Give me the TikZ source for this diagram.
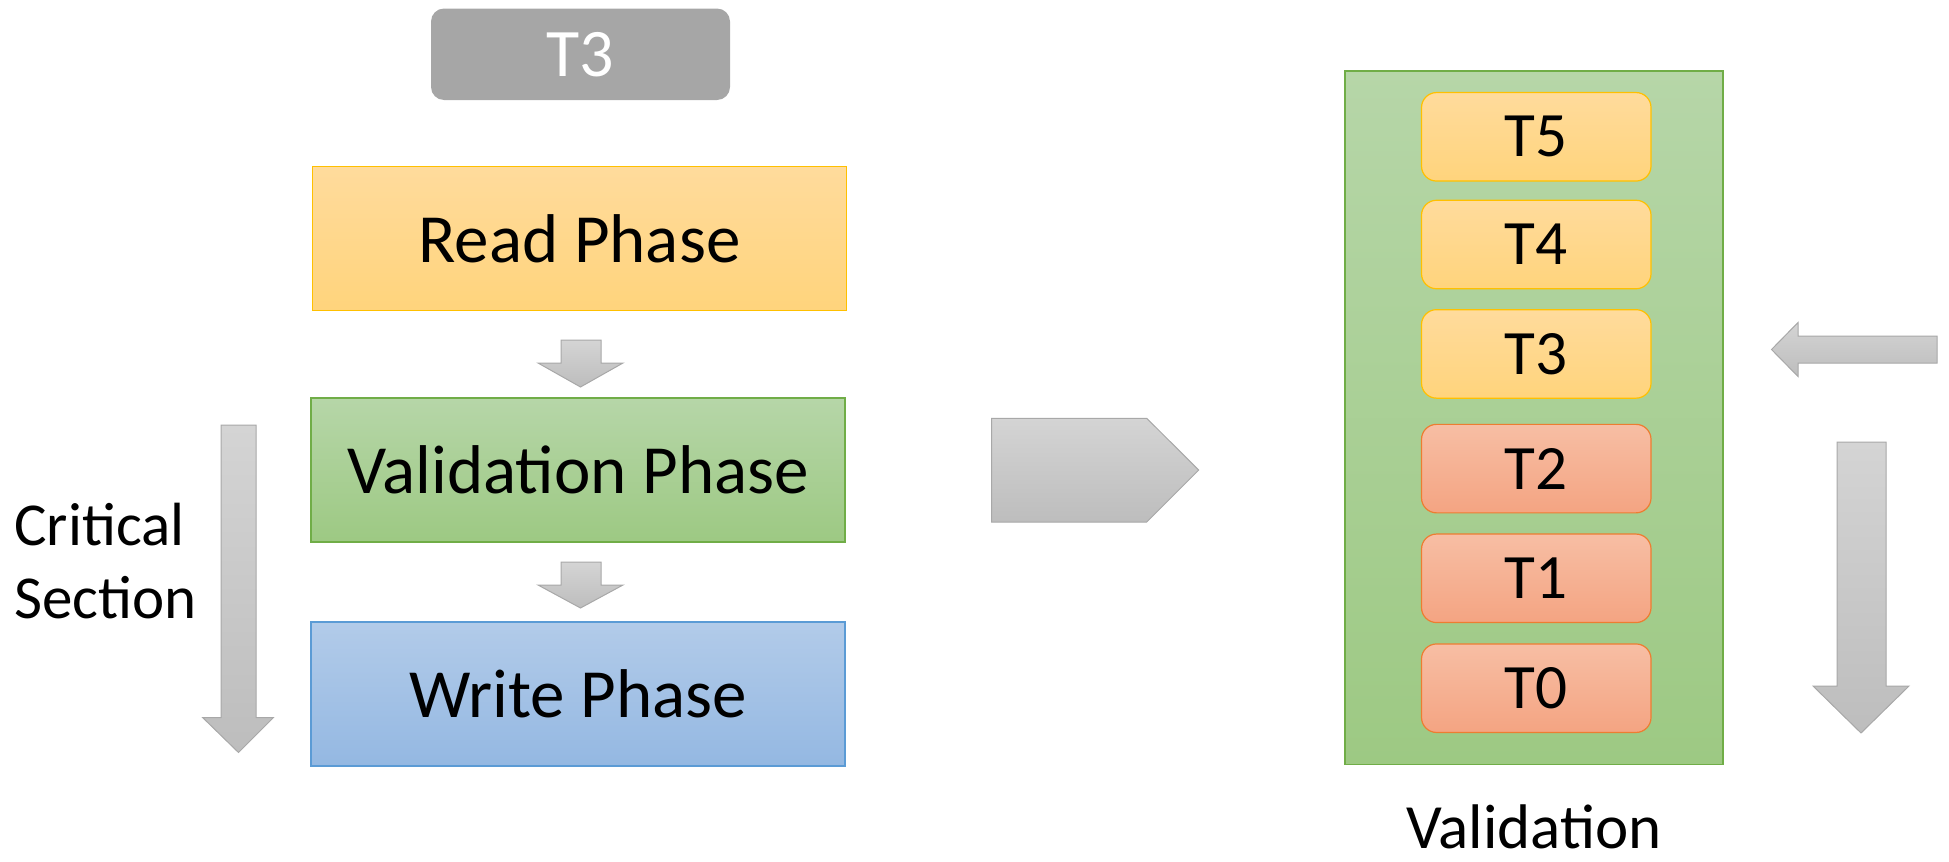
\documentclass[tikz,border=0pt]{standalone}
\usepackage{fontspec}
\setmainfont{Carlito}
\definecolor{grayfill}{HTML}{A6A6A6}
\definecolor{goldtop}{HTML}{FFDB9C}
\definecolor{goldbot}{HTML}{FFD47C}
\definecolor{goldline}{HTML}{FFC000}
\definecolor{greentop}{HTML}{B6D6A8}
\definecolor{greenbot}{HTML}{9DC983}
\definecolor{greenline}{HTML}{70AD47}
\definecolor{bluetop}{HTML}{B2CBE9}
\definecolor{bluebot}{HTML}{94B8E2}
\definecolor{blueline}{HTML}{5B9BD5}
\definecolor{redtop}{HTML}{F7BEA4}
\definecolor{redbot}{HTML}{F4A482}
\definecolor{redline}{HTML}{ED7D31}
\definecolor{arrtop}{HTML}{D4D4D4}
\definecolor{arrbot}{HTML}{BDBDBD}
\definecolor{arrline}{HTML}{A8A8A8}
\begin{document}
\begin{tikzpicture}[x=0.5pt,y=-0.5pt,
  phasebox/.style={draw, line width=0.7pt, minimum width=267pt, minimum height=72pt,
    inner sep=0pt, font=\fontsize{34.5}{40}\selectfont},
  readbox/.style={phasebox, draw=goldline, top color=goldtop, bottom color=goldbot},
  valbox/.style={phasebox, draw=greenline, top color=greentop, bottom color=greenbot},
  writebox/.style={phasebox, draw=blueline, top color=bluetop, bottom color=bluebot},
  txbox/.style={draw, line width=0.6pt, rounded corners=7.5pt, minimum width=114.75pt,
    minimum height=44.25pt, inner sep=0pt, font=\fontsize{31.6}{36}\selectfont},
  waitbox/.style={txbox, draw=goldline, top color=goldtop, bottom color=goldbot},
  donebox/.style={txbox, draw=redline, top color=redtop, bottom color=redbot},
  blockarrow/.style={draw=arrline, line width=0.5pt, top color=arrtop, bottom color=arrbot},
  label/.style={inner sep=0pt, font=\fontsize{30.5}{36.5}\selectfont}
]
\useasboundingbox (0,0) rectangle (1949,862);

% incoming transaction
\node[fill=grayfill, rounded corners=6.5pt, minimum width=149.5pt, minimum height=45.75pt,
  inner sep=0pt, text=white, font=\fontsize{34}{40}\selectfont] (tx) at (580.5,54.25) {T3};

% the three phases
\node[readbox]  (read)  at (579.5,238.5) {Read Phase};
\node[valbox]   (valid) at (578,470)     {Validation Phase};
\node[writebox] (write) at (578,694)     {Write Phase};

% arrows between phases
\draw[blockarrow] (561,340) -- (601,340) -- (601,363) -- (623,363) -- (580.5,387)
  -- (538,363) -- (561,363) -- cycle;
\draw[blockarrow] (561,562) -- (601,562) -- (601,585) -- (623,585) -- (580.5,608)
  -- (538,585) -- (561,585) -- cycle;

% critical section marker
\draw[blockarrow] (221,425) -- (256,425) -- (256,717.5) -- (273.5,717.5) -- (238.5,752.5)
  -- (202.6,717.5) -- (221,717.5) -- cycle;
\node[label, align=left, anchor=west] (crit) at (14,561) {Critical\\Section};

% hand-over to the validation queue
\draw[blockarrow] (991.7,418.3) -- (1146.7,418.3) -- (1198.7,470) -- (1146.7,522)
  -- (991.7,522) -- cycle;

% validation queue
\node[draw=greenline, line width=0.7pt, top color=greentop, bottom color=greenbot,
  minimum width=189pt, minimum height=346.75pt, inner sep=0pt] (queue) at (1534,417.75) {};
\node[waitbox] (t5) at (1536.25,136.8) {T5};
\node[waitbox] (t4) at (1536.25,244.5) {T4};
\node[waitbox] (t3) at (1536.25,353.9) {T3};
\node[donebox] (t2) at (1536.25,468.6) {T2};
\node[donebox] (t1) at (1536.25,578.3) {T1};
\node[donebox] (t0) at (1536.25,688.2) {T0};
\node[inner sep=0pt, anchor=base, font=\fontsize{31.5}{38}\selectfont] (qlabel) at (1534,848) {Validation};

% enqueue and processing direction
\draw[blockarrow] (1937,336) -- (1937,363) -- (1798,363) -- (1798,376.5) -- (1771.5,349.5)
  -- (1798,322.5) -- (1798,336) -- cycle;
\draw[blockarrow] (1837,442) -- (1886,442) -- (1886,686) -- (1909,686) -- (1861,733)
  -- (1813,686) -- (1837,686) -- cycle;
\end{tikzpicture}
\end{document}
